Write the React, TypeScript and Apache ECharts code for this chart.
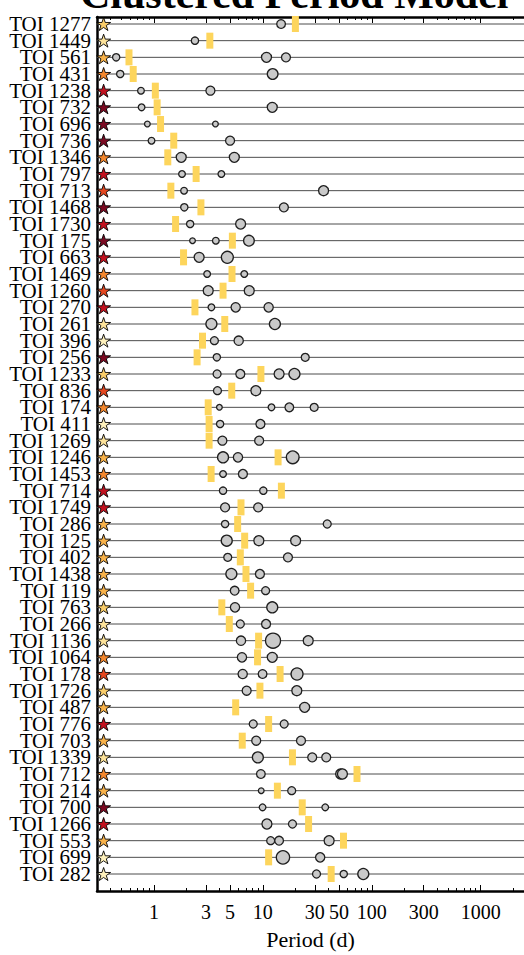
import React, { useEffect, useRef } from 'react';
import * as echarts from 'echarts';

// System names, top to bottom
const toiNames = [
  'TOI 1277', 'TOI 1449', 'TOI 561', 'TOI 431', 'TOI 1238', 'TOI 732', 'TOI 696', 'TOI 736',
  'TOI 1346', 'TOI 797', 'TOI 713', 'TOI 1468', 'TOI 1730', 'TOI 175', 'TOI 663', 'TOI 1469',
  'TOI 1260', 'TOI 270', 'TOI 261', 'TOI 396', 'TOI 256', 'TOI 1233', 'TOI 836', 'TOI 174',
  'TOI 411', 'TOI 1269', 'TOI 1246', 'TOI 1453', 'TOI 714', 'TOI 1749', 'TOI 286', 'TOI 125',
  'TOI 402', 'TOI 1438', 'TOI 119', 'TOI 763', 'TOI 266', 'TOI 1136', 'TOI 1064', 'TOI 178',
  'TOI 1726', 'TOI 487', 'TOI 776', 'TOI 703', 'TOI 1339', 'TOI 712', 'TOI 214', 'TOI 700',
  'TOI 1266', 'TOI 553', 'TOI 699', 'TOI 282',
];

// Host-star temperature class (0 = hottest / palest ... 7 = coolest / darkest)
const starClass = [
  2, 1, 3, 4, 6, 7, 7, 7,
  4, 6, 5, 7, 6, 7, 6, 4,
  5, 6, 1, 0, 7, 2, 5, 4,
  0, 1, 3, 4, 6, 6, 3, 3,
  3, 3, 3, 2, 1, 1, 4, 5,
  2, 3, 6, 3, 1, 4, 3, 7,
  6, 3, 0, 0,
];
const STAR_COLORS = ['#fef1bc', '#fde39a', '#f9cd6a', '#f8b24a', '#f3872e', '#e5471f', '#c2121f', '#7b0a22'];

// Known planet periods (d) and marker sizes, per system
const planetPeriods: number[][] = [
  [14.7], [2.38], [0.45, 10.8, 16.3], [0.49, 12.3], [0.76, 3.3], [0.77, 12.2], [0.87, 3.67], [0.95, 5.0],
  [1.78, 5.47], [1.81, 4.16], [1.89, 36.1], [1.9, 15.6], [2.15, 6.25], [2.26, 3.7, 7.45], [2.6, 4.72], [3.08, 6.75],
  [3.15, 7.5], [3.37, 5.63, 11.3], [3.37, 12.9], [3.59, 6.0], [3.78, 24.5], [3.8, 6.21, 14.1, 19.5], [3.83, 8.63], [3.99, 12.0, 17.5, 29.6],
  [4.05, 9.5], [4.25, 9.25], [4.31, 5.91, 18.8], [4.31, 6.56], [4.31, 10.1], [4.5, 9.06], [4.5, 39.0], [4.66, 9.19, 20.0],
  [4.76, 17.0], [5.14, 9.4], [5.51, 10.6], [5.55, 12.2], [6.21, 10.7], [6.3, 12.4, 26.1], [6.43, 12.2], [6.53, 9.94, 20.6],
  [7.1, 20.5], [24.2], [8.16, 15.7], [8.69, 22.4], [9.0, 28.4, 38.2], [9.59, 51.8, 53.8], [9.66, 18.4], [9.94, 37.4],
  [10.9, 18.7], [11.8, 14.1, 40.6], [15.3, 33.6], [31.1, 55.3, 83.6],
];
const planetSizes: number[][] = [
  [8.7], [7.3], [7.3, 10, 9], [7.3, 10.7], [6.7, 9], [6.7, 10], [5.7, 5.7], [6.7, 9],
  [10, 10], [6.7, 6.7], [6.7, 10], [7.3, 9], [7.3, 10], [5.7, 6.7, 10.7], [10, 12], [6.7, 6.7],
  [10, 10], [6.7, 9.3, 9.3], [11, 11], [8, 9.3], [7.3, 8], [8, 9, 10, 11], [8, 10], [5.7, 6.7, 8.7, 8],
  [7.3, 9], [9, 9], [11, 9.3, 12.7], [6.7, 9], [7.3, 7.3], [9, 9], [7.3, 8], [11, 10, 10],
  [8, 9], [11, 9], [8.7, 8], [9.3, 11], [8, 9], [9.3, 15, 10], [9.3, 10], [9.3, 8.7, 12],
  [9, 10], [10], [8, 8], [9, 9], [11, 9, 9], [8.7, 10, 10], [5.7, 8], [6.7, 6.7],
  [10, 8], [8, 8.7, 10], [13.3, 9.3], [8, 7.3, 11],
];

// Period predicted by the clustered model, per system (d)
const predictedPeriods = [
  19.9, 3.26, 0.59, 0.645, 1.03, 1.07, 1.15, 1.52,
  1.34, 2.44, 1.43, 2.7, 1.58, 5.25, 1.87, 5.21,
  4.31, 2.38, 4.47, 2.79, 2.49, 9.6, 5.18, 3.15,
  3.21, 3.21, 13.8, 3.35, 14.8, 6.3, 5.87, 6.81,
  6.21, 7.0, 7.72, 4.2, 4.92, 9.14, 8.94, 14.4,
  9.4, 5.63, 11.3, 6.47, 18.7, 73.2, 13.6, 23.0,
  26.3, 55.0, 11.3, 42.4,
];

const majorTicks = [1, 3, 5, 10, 30, 50, 100, 300, 1000];
const minorTicks = [
  0.4, 0.5, 0.6, 0.7, 0.8, 0.9, 2, 4, 6, 7, 8, 9,
  20, 40, 60, 70, 80, 90, 200, 400, 500, 600, 700, 800, 900, 2000,
];

const P_MIN = 0.3;
const P_MAX = 2500;
const STAR_P = 0.345;

const SERIF = '"Liberation Serif", "DejaVu Serif", serif';
const STAR_PATH =
  'path://M0,-10 L2.245,-3.09 L9.511,-3.09 L3.633,1.18 L5.878,8.09 L0,3.82 L-5.878,8.09 L-3.633,1.18 L-9.511,-3.09 L-2.245,-3.09 Z';

function logAxis(extra: any) {
  return {
    type: 'log',
    logBase: 10,
    min: P_MIN,
    max: P_MAX,
    splitLine: { show: false },
    ...extra,
  };
}

export default function App() {
  const ref = useRef<HTMLDivElement>(null);

  useEffect(() => {
    if (!ref.current) return;
    const chart = echarts.init(ref.current, null, { renderer: 'svg' });

    const planetData: any[] = [];
    planetPeriods.forEach((ps, i) => {
      ps.forEach((p, j) => planetData.push([p, i, planetSizes[i][j]]));
    });
    const predData = predictedPeriods.map((p, i) => [p, i]);
    const starData = toiNames.map((_, i) => [STAR_P, i, starClass[i]]);
    const rowData = toiNames.map((_, i) => [P_MIN, i]);

    const frameLine = { show: true, onZero: false, lineStyle: { color: '#000', width: 2.5 } };
    const majorTick = (len: number) => ({
      show: true, inside: true, length: len, customValues: majorTicks,
      lineStyle: { color: '#000', width: 1 },
    });
    const minorTick = (len: number) => ({
      show: true, inside: true, length: len, customValues: minorTicks,
      lineStyle: { color: '#000', width: 1 },
    });

    const option: any = {
      animation: false,
      backgroundColor: '#ffffff',
      textStyle: { fontFamily: SERIF },
      graphic: [
        {
          type: 'text',
          x: 80,
          y: 15,
          style: {
            text: 'Clustered Period Model',
            font: `bold 42px ${SERIF}`,
            fill: '#000',
            textVerticalAlign: 'bottom',
            verticalAlign: 'bottom',
          },
        },
      ],
      grid: [
        { left: 97, right: -3, top: 17, bottom: 55 },
        { left: 97, right: -3, top: 15.67, height: 866.67 },
      ],
      xAxis: [
        logAxis({
          gridIndex: 0, position: 'bottom',
          axisLine: frameLine,
          axisTick: majorTick(6),
          axisLabel: {
            show: true, customValues: majorTicks, formatter: (v: number) => String(Math.round(v)),
            fontSize: 20, color: '#000', fontFamily: SERIF, margin: 11,
          },
          name: 'Period (d)', nameLocation: 'middle', nameGap: 37,
          nameTextStyle: { fontSize: 22, color: '#000', fontFamily: SERIF },
        }),
        logAxis({
          gridIndex: 0, position: 'bottom',
          axisLine: { show: false, onZero: false },
          axisTick: minorTick(3),
          axisLabel: { show: false },
        }),
        logAxis({
          gridIndex: 0, position: 'top',
          axisLine: frameLine,
          axisTick: majorTick(6),
          axisLabel: { show: false },
        }),
        logAxis({
          gridIndex: 0, position: 'top',
          axisLine: { show: false, onZero: false },
          axisTick: minorTick(3),
          axisLabel: { show: false },
        }),
        logAxis({ gridIndex: 1, show: false }),
      ],
      yAxis: [
        {
          type: 'value', gridIndex: 0, min: 0, max: 1, position: 'left',
          axisLine: frameLine, axisTick: { show: false }, axisLabel: { show: false },
          splitLine: { show: false },
        },
        {
          type: 'category', gridIndex: 1, data: toiNames, inverse: true,
          axisLine: { show: false }, axisTick: { show: false }, splitLine: { show: false },
          axisLabel: {
            interval: 0, fontSize: 21, lineHeight: 16, color: '#000', fontFamily: SERIF, margin: 6,
          },
        },
      ],
      series: [
        {
          type: 'custom', xAxisIndex: 4, yAxisIndex: 1, z: 1, silent: true,
          data: rowData,
          renderItem: (_params: any, api: any) => {
            const y = api.value(1);
            const a = api.coord([P_MIN, y]);
            const b = api.coord([P_MAX, y]);
            return {
              type: 'line',
              shape: { x1: a[0], y1: a[1], x2: b[0], y2: b[1] },
              style: { stroke: '#4d4d4d', lineWidth: 1 },
            };
          },
        },
        {
          type: 'scatter', xAxisIndex: 4, yAxisIndex: 1, z: 2,
          symbol: 'rect', symbolSize: [7, 16],
          itemStyle: { color: '#fdd55c', opacity: 1 },
          data: predData,
        },
        {
          type: 'scatter', xAxisIndex: 4, yAxisIndex: 1, z: 3,
          symbol: 'circle',
          symbolSize: (v: number[]) => v[2],
          itemStyle: { color: '#c9c9c9', borderColor: '#1e1e1e', borderWidth: 1.3, opacity: 1 },
          data: planetData,
        },
        {
          type: 'scatter', xAxisIndex: 4, yAxisIndex: 1, z: 4,
          symbol: STAR_PATH, symbolSize: [14, 13],
          itemStyle: {
            color: (p: any) => STAR_COLORS[p.data[2]],
            borderColor: '#000', borderWidth: 0.9, opacity: 1,
          },
          data: starData,
        },
      ],
    };

    chart.setOption(option);
    return () => chart.dispose();
  }, []);

  return (
    <div
      ref={ref}
      style={{ position: 'fixed', left: 0, top: 0, width: 524, height: 955, background: '#fff' }}
    />
  );
}
